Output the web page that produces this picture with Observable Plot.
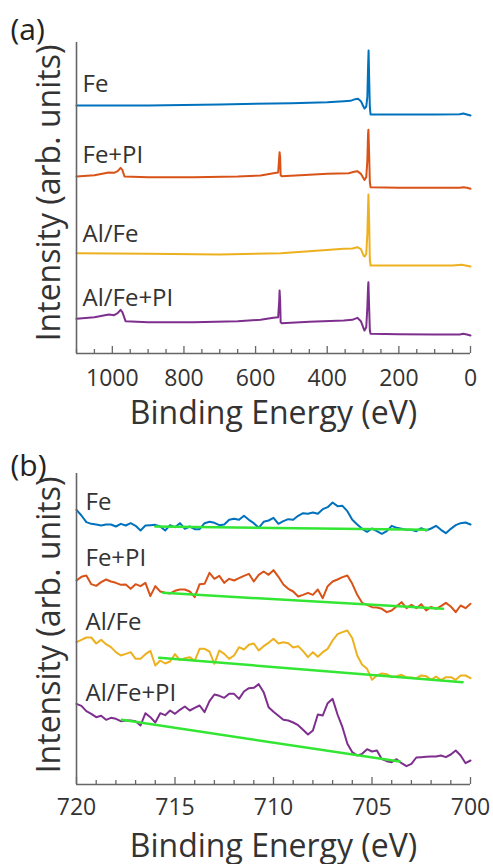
<!DOCTYPE html>
<html><head><meta charset="utf-8">
<script src="https://cdn.jsdelivr.net/npm/d3@7"></script>
<script src="https://cdn.jsdelivr.net/npm/@observablehq/plot@0.6"></script>
<style>
body{margin:0;background:#fff;}
#chart{width:493px;}
#chart svg{display:block;}
</style></head><body><div id="chart"></div>
<script>
// ---------- shared ----------
const seriesNames = ["Fe", "Fe+PI", "Al/Fe", "Al/Fe+PI"];
const seriesColors = ["#0072BD", "#D95319", "#EDB120", "#7E2F8E"];
const baselineColor = "#33e633";
const xTitle = "Binding Energy (eV)";
const yTitle = "Intensity (arb. units)";

// ---------- panel (a): survey spectra [binding energy (eV), intensity (a.u.)] ----------
const surveyTicksMajor = [1000, 800, 600, 400, 200, 0];
const surveyTicksMinor = [1100, 1050, 950, 900, 850, 750, 700, 650, 550, 500, 450, 350, 300, 250, 150, 100, 50];
const surveyOffsets = [690, 480, 250, 30];
const surveyFe = [[1100,54],[900,54],[700,57],[500,61],[400,64],[353,67],[335,68],[322,73],[314,74],[306,67],[299,51],[296,45],[291,51],[288,79],[286,169],[284.5,219],[283,139],[281,49],[279,27],[250,27],[100,27],[30,28],[20,30],[10,27],[0,24]];
const surveyFePI = [[1100,51],[1050,55],[1010,63],[995,62],[985,67],[977,77],[972,71],[966,51],[900,49],[773,49],[650,51],[586,54],[550,61],[537,63],[534,109],[533,124],[531.5,109],[530,54],[527,52],[450,56],[400,59],[340,61],[325,65],[316,67],[306,59],[298,44],[296,41],[291,49],[288,99],[286,179],[285,191],[283,119],[281,34],[279,19],[200,17],[100,17],[30,17],[20,19],[10,17],[0,14]];
const surveyAlFe = [[1100,51],[900,49],[700,47],[530,51],[450,57],[354,64],[330,65],[316,69],[306,63],[298,43],[295,41],[291,49],[288,109],[286,189],[285,227],[283,149],[281,29],[279,14],[200,14],[50,14],[25,16],[10,13],[0,11]];
const surveyAlFePI = [[1100,74],[1050,79],[1010,87],[995,85],[985,91],[977,101],[972,94],[963,67],[900,64],[773,64],[650,67],[586,71],[550,77],[537,79],[534,129],[533,159],[531.5,129],[530,64],[527,61],[450,65],[354,69],[330,71],[316,77],[306,67],[298,44],[296,39],[291,49],[288,109],[286,169],[285,184],[283,109],[281,39],[279,29],[200,28],[100,27],[30,27],[20,29],[10,27],[0,24]];

// ---------- panel (b): Fe 2p region, 0.25 eV steps from 720 to 700 eV ----------
const fe2pEnergy = d3.range(0, 81).map(i => 720 - i * 0.25);
const fe2pTicksMajor = [720, 715, 710, 705, 700];
const fe2pTicksMinor = [719,718,717,716,714,713,712,711,709,708,707,706,704,703,702,701];
const fe2pOffsets = [732, 507, 297, 42];
const fe2pFe = [92,75,55,50,48,45,48,48,42,50,45,52,44,30,45,46,47,42,30,46,40,52,35,42,34,34,52,56,53,46,48,62,65,62,74,62,52,38,56,60,68,50,58,64,62,74,82,80,84,80,94,100,114,103,104,88,62,48,35,26,36,28,20,28,44,38,35,32,32,28,37,30,36,44,32,22,35,46,52,54,48];
const fe2pFePI = [105,116,120,94,89,100,108,102,98,92,93,80,94,88,98,58,88,72,68,66,74,78,78,72,55,94,95,128,110,119,98,110,105,112,119,125,102,122,132,122,136,116,93,80,72,57,62,68,62,78,52,88,102,108,115,120,95,62,38,32,25,24,20,10,15,28,40,22,32,22,34,15,26,20,28,38,27,10,30,22,35];
const fe2pAlFe = [130,137,144,144,126,137,124,115,100,90,95,100,80,80,94,104,60,75,66,72,94,76,82,85,74,110,110,102,65,105,95,80,90,115,108,122,126,105,118,128,140,126,130,127,114,118,103,85,100,86,100,110,135,154,160,165,142,90,62,50,17,30,36,34,25,28,32,24,24,22,30,28,17,27,16,25,25,17,30,30,22];
const fe2pAlFePI = [200,194,178,170,160,164,152,158,155,148,150,150,148,135,172,160,144,172,166,180,170,182,192,180,188,195,175,208,228,224,218,230,230,215,237,247,248,259,235,190,176,164,152,150,144,136,122,108,120,168,165,202,215,168,130,80,55,45,50,64,57,60,34,28,25,34,22,13,20,39,40,41,42,42,45,40,48,60,45,22,30];
// linear background lines [start eV, start intensity, end eV, end intensity]
const fe2pBaselines = [[716.0,42,702.2,32],[715.6,68,701.4,20],[715.8,83,700.4,10],[717.7,152,703.6,27]];

// ---------- drawing ----------
const W = 493, H = 432, ML = 76, MR = 23;
const textColor = "#333", axisColor = "#666";

function panel(o) {
  const innerH = H - o.mt - o.mb;
  const rows = o.traces.flatMap((t, k) => t.map(([e, v]) => ({series: seriesNames[k], e, y: v + o.offsets[k]})));
  const marks = [
    Plot.line(rows, {x: "e", y: "y", z: "series", stroke: "series", strokeWidth: 2, strokeLinejoin: "round"})
  ];
  if (o.baselines) {
    const bl = o.baselines.flatMap(([e1, v1, e2, v2], k) => [
      {series: seriesNames[k], e: e1, y: v1 + o.offsets[k]},
      {series: seriesNames[k], e: e2, y: v2 + o.offsets[k]}
    ]);
    marks.push(Plot.line(bl, {x: "e", y: "y", z: "series", stroke: baselineColor, strokeWidth: 2.5}));
  }
  marks.push(
    Plot.ruleX([o.xDomain[0]], {stroke: axisColor, strokeWidth: 1.6}),
    Plot.ruleY([o.yDomain[0]], {stroke: axisColor, strokeWidth: 1.6}),
    Plot.ruleX(o.minor, {stroke: axisColor, strokeWidth: 1.3, insetTop: innerH - 4}),
    Plot.ruleX(o.major, {stroke: axisColor, strokeWidth: 1.3, insetTop: innerH - 7}),
    Plot.axisX({ticks: o.major, tickSize: 0, tickPadding: o.tickPad, fontSize: 23, tickFormat: d => String(d), fill: textColor, label: null}),
    Plot.text([xTitle], {text: d => d, frameAnchor: "bottom", dy: o.titleDy, textAnchor: "middle", lineAnchor: "middle", fontSize: 32, fill: textColor}),
    Plot.text([yTitle], {text: d => d, frameAnchor: "left", rotate: -90, dx: -27, dy: o.yTitleDy, textAnchor: "middle", lineAnchor: "middle", fontSize: 32, fill: textColor}),
    Plot.text([o.panelLabel], {text: d => d, frameAnchor: "top-left", dx: -66, dy: o.panelDy, textAnchor: "start", lineAnchor: "middle", fontSize: 30, fill: "#222"})
  );
  seriesNames.forEach((name, k) => {
    marks.push(Plot.text([name], {
      text: d => d,
      y: () => o.offsets[k] + o.traces[k][0][1],
      frameAnchor: "left", dx: o.labelDx, dy: o.labelDy[k],
      textAnchor: "start", lineAnchor: "middle", fontSize: 24, fill: textColor
    }));
  });
  return Plot.plot({
    width: W, height: H,
    marginLeft: ML, marginRight: MR, marginTop: o.mt, marginBottom: o.mb,
    x: {domain: o.xDomain, axis: null},
    y: {domain: o.yDomain, axis: null},
    color: {domain: seriesNames, range: seriesColors},
    style: {fontFamily: "'Open Sans', sans-serif", background: "white", color: textColor, overflow: "visible"},
    marks
  });
}

const chart = document.getElementById("chart");
chart.append(panel({
  xDomain: [1100, 0], yDomain: [0, 933], mt: 42, mb: 79,
  major: surveyTicksMajor, minor: surveyTicksMinor,
  offsets: surveyOffsets, traces: [surveyFe, surveyFePI, surveyAlFe, surveyAlFePI],
  tickPad: 16, titleDy: 60, yTitleDy: -5, panelLabel: "(a)", panelDy: -12,
  labelDx: 6, labelDy: [-21, -21, -19, -21]
}));
chart.append(panel({
  xDomain: [720, 700], yDomain: [0, 933], mt: 41, mb: 80,
  major: fe2pTicksMajor, minor: fe2pTicksMinor,
  offsets: fe2pOffsets,
  traces: [fe2pFe, fe2pFePI, fe2pAlFe, fe2pAlFePI].map(vals => vals.map((v, i) => [fe2pEnergy[i], v])),
  baselines: fe2pBaselines,
  tickPad: 14, titleDy: 62, yTitleDy: -4, panelLabel: "(b)", panelDy: -7,
  labelDx: 9, labelDy: [-8, -22, -20, -11]
}));
</script></body></html>
